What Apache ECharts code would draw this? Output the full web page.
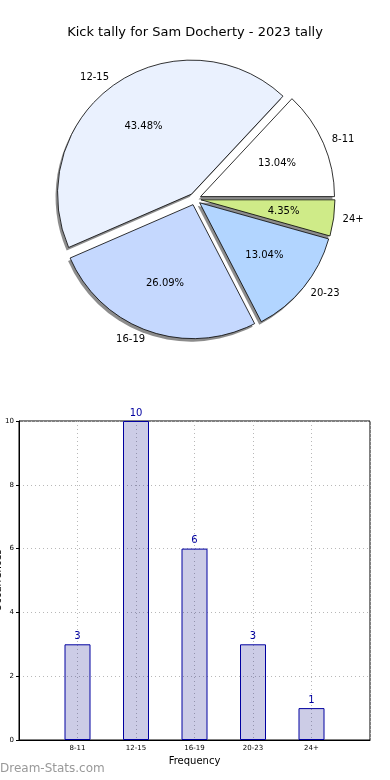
<!DOCTYPE html>
<html><head><meta charset="utf-8">
<script src="https://cdn.jsdelivr.net/npm/echarts@6/dist/echarts.min.js"></script>
<style>html,body{margin:0;padding:0;background:#fff}#c{width:390px;height:780px}</style>
</head><body><div id="c"></div>
<script>
const categories = ['8-11', '12-15', '16-19', '20-23', '24+'];
const kicks = [3, 10, 6, 3, 1];
const sliceColors = ['#ffffff', '#eaf1fe', '#c5d8fe', '#b2d5ff', '#cfeb88'];
const yTicks = [0, 2, 4, 6, 8, 10];

const total = kicks.reduce((a, b) => a + b, 0);
const F = 'DejaVu Sans';
const chart = echarts.init(document.getElementById('c'), null, {renderer: 'canvas'});
const R = 134, C = [195, 199];
const pieData = categories.map((c, i) => ({
  name: c, value: kicks[i], selected: true,
  itemStyle: {color: sliceColors[i]}
}));
const plainData = categories.map((c, i) => ({name: c, value: kicks[i], selected: true}));
const pieBase = {type: 'pie', startAngle: 0, clockwise: false, selectedMode: 'multiple',
  selectedOffset: 6, avoidLabelOverlap: false, emphasis: {disabled: true}};

chart.setOption({
  animation: false,
  title: {text: 'Kick tally for Sam Docherty - 2023 tally', left: 'center', top: 21,
    textStyle: {fontFamily: F, fontSize: 13, fontWeight: 'normal', color: '#000'}},
  graphic: [{type: 'text', left: 0, top: 763,
    style: {text: 'Dream-Stats.com', fontFamily: F, fontSize: 12, fontWeight: 'normal', fill: '#999999'}}],
  grid: {left: 19, right: 20, top: 421, bottom: 40, show: true, borderColor: '#000', borderWidth: 1,
    containLabel: false, outerBoundsMode: 'none'},
  xAxis: {type: 'value', min: 0, max: 6, interval: 1,
    name: 'Frequency', nameLocation: 'middle', nameGap: 16,
    nameTextStyle: {fontFamily: F, fontSize: 10, color: '#000'},
    axisLine: {show: true, lineStyle: {color: '#000'}},
    axisTick: {show: false},
    axisLabel: {fontFamily: F, fontSize: 7, color: '#000', margin: 5,
      formatter: v => categories[v - 1] || ''},
    splitLine: {show: true, lineStyle: {color: '#b8b8b8', type: [1, 3], width: 1}}},
  yAxis: {type: 'value', min: 0, max: 10, interval: 2,
    name: 'Occurrences', nameLocation: 'middle', nameGap: 16, nameRotate: 90, nameMoveOverlap: false,
    nameTextStyle: {fontFamily: F, fontSize: 10, color: '#000'},
    axisLine: {show: true, lineStyle: {color: '#000'}},
    axisTick: {show: true, length: 3, lineStyle: {color: '#000'}},
    axisLabel: {fontFamily: F, fontSize: 7, color: '#000', margin: 5,
      formatter: v => yTicks.includes(v) ? String(v) : ''},
    splitLine: {show: true, lineStyle: {color: '#b8b8b8', type: [1, 3], width: 1}}},
  series: [
    Object.assign({}, pieBase, {center: [C[0] - 2, C[1] + 3], radius: [0, R], silent: true, z: 1,
      data: plainData,
      itemStyle: {color: 'rgba(0,0,0,0.45)', borderWidth: 0},
      select: {itemStyle: {color: 'rgba(0,0,0,0.45)', borderWidth: 0}},
      label: {show: false}, labelLine: {show: false}}),
    Object.assign({}, pieBase, {center: C, radius: [0, R], z: 2,
      data: pieData,
      itemStyle: {borderColor: '#000', borderWidth: 0.8},
      select: {itemStyle: {borderColor: '#000', borderWidth: 0.8}},
      label: {show: true, position: 'outside', fontFamily: F, fontSize: 10, color: '#000',
        formatter: '{b}', distanceToLabelLine: 0},
      labelLine: {show: false, length: 9, length2: 0}}),
    Object.assign({}, pieBase, {center: C, radius: [0, R * 1.2], silent: true, z: 3,
      data: plainData,
      itemStyle: {color: 'rgba(0,0,0,0)', borderWidth: 0},
      select: {itemStyle: {color: 'rgba(0,0,0,0)', borderWidth: 0}},
      label: {show: true, position: 'inside', fontFamily: F, fontSize: 10, color: '#000',
        formatter: p => (p.value / total * 100).toFixed(2) + '%'},
      labelLine: {show: false}}),
    {type: 'bar', barWidth: 26,
      data: kicks.map((v, i) => [i + 1, v]),
      itemStyle: {color: 'rgba(0,0,128,0.2)', borderColor: '#0000a0', borderWidth: 1},
      label: {show: true, position: 'top', distance: 3, fontFamily: F, fontSize: 10, color: '#0000a0'},
      emphasis: {disabled: true}}
  ]
});
</script></body></html>
